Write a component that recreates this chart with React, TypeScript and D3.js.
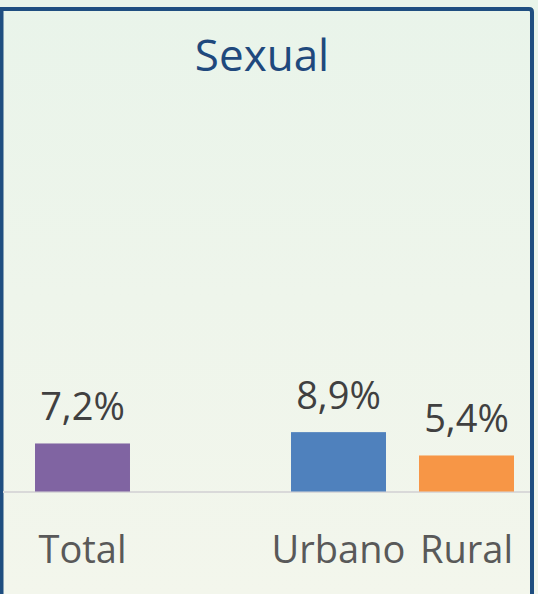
import React, {useEffect, useRef} from "react";
import * as d3 from "d3";

const title = "Sexual";
const categories = ["Total", "", "Urbano", "Rural"];
const values = [7.2, null, 8.9, 5.4];
const valueLabels = ["7,2%", "", "8,9%", "5,4%"];
const colors = ["#8064a2", "none", "#4f81bd", "#f79646"];

const App = () => {
    const ref = useRef<SVGSVGElement>(null);

    useEffect(() => {
        const w = 538;
        const h = 594;
        const font = "'Open Sans', 'Noto Sans', sans-serif";

        document.body.style.margin = "0";
        const svg = d3.select(ref.current)
            .attr("width", w)
            .attr("height", h);
        svg.selectAll("*").remove();

        // background gradient
        const grad = svg.append("defs").append("linearGradient")
            .attr("id", "bg")
            .attr("x1", 0).attr("y1", 0).attr("x2", 0).attr("y2", 1);
        grad.append("stop").attr("offset", "0%").attr("stop-color", "#e9f4ea");
        grad.append("stop").attr("offset", "100%").attr("stop-color", "#f3f6ec");

        svg.append("rect")
            .attr("width", w).attr("height", h)
            .attr("fill", "url(#bg)");

        // frame
        svg.append("path")
            .attr("d", "M1.5,600 L1.5,9 L529,9 Q532,9 532,12 L532,600")
            .attr("fill", "none")
            .attr("stroke", "#1f4e80")
            .attr("stroke-width", 4);

        svg.append("text")
            .attr("x", 262)
            .attr("y", 71)
            .attr("text-anchor", "middle")
            .attr("font-family", font)
            .attr("font-size", 44)
            .attr("fill", "#1f497d")
            .text(title);

        const xScale = d3.scaleBand()
            .domain(categories)
            .range([18.5, 530.5])
            .paddingInner(0.258)
            .paddingOuter(0.129);

        const base = 491.5;
        const yScale = d3.scaleLinear()
            .domain([0, 10])
            .range([base, base - 66.7]);

        // baseline
        svg.append("line")
            .attr("x1", 3).attr("x2", 530)
            .attr("y1", base + 0.5).attr("y2", base + 0.5)
            .attr("stroke", "#d9d9d9")
            .attr("stroke-width", 2);

        const idx = d3.range(categories.length).filter(i => values[i] != null);

        svg.selectAll(".bar")
            .data(idx)
            .enter()
            .append("rect")
            .attr("x", i => xScale(categories[i]))
            .attr("y", i => yScale(values[i]))
            .attr("width", xScale.bandwidth())
            .attr("height", i => base - yScale(values[i]))
            .attr("fill", i => colors[i]);

        svg.selectAll(".val")
            .data(idx)
            .enter()
            .append("text")
            .attr("x", i => xScale(categories[i]) + xScale.bandwidth() / 2)
            .attr("y", i => yScale(values[i]) - 23)
            .attr("text-anchor", "middle")
            .attr("font-family", font)
            .attr("font-size", 38)
            .attr("fill", "#404040")
            .text(i => valueLabels[i]);

        svg.selectAll(".cat")
            .data(idx)
            .enter()
            .append("text")
            .attr("x", i => xScale(categories[i]) + xScale.bandwidth() / 2)
            .attr("y", 563)
            .attr("text-anchor", "middle")
            .attr("font-family", font)
            .attr("font-size", 38)
            .attr("fill", "#595959")
            .text(i => categories[i]);
    }, []);

    return (
        <svg ref={ref} style={{display: "block"}}></svg>
    );
};

export default App;
